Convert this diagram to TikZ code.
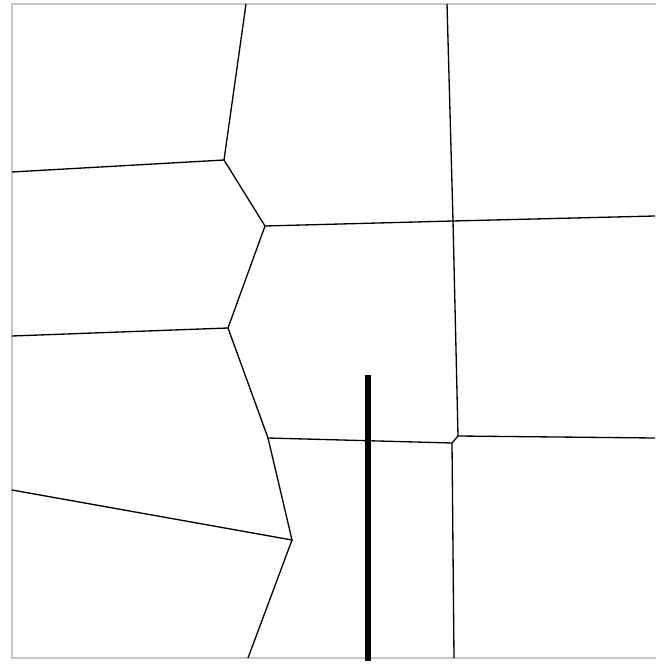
\documentclass[tikz,border=0pt]{standalone}
\begin{document}
\begin{tikzpicture}[x=0.02cm, y=-0.02cm, edge/.style={line width=0.75pt}]
    \useasboundingbox (0,0) rectangle (655,665);
    \draw[gray!45, line width=0.9pt] (12,4) rectangle (660,658);

    \coordinate (a) at (224,160);
    \coordinate (b) at (265,226);
    \coordinate (c) at (453,221);
    \coordinate (d) at (228,328);
    \coordinate (e) at (268,438);
    \coordinate (f) at (452,443);
    \coordinate (g) at (458,436);
    \coordinate (h) at (292,540);

    \coordinate (aL) at (12,172);
    \coordinate (aT) at (246,4);
    \coordinate (cT) at (447,4);
    \coordinate (cR) at (655,216);
    \coordinate (dL) at (12,336);
    \coordinate (gR) at (655,438);
    \coordinate (fB) at (454,658);
    \coordinate (hL) at (12,490);
    \coordinate (hB) at (248,658);

    \draw[edge] (aL) -- (a) -- (aT);
    \draw[edge] (a) -- (b) -- (c) -- (cT);
    \draw[edge] (c) -- (cR);
    \draw[edge] (b) -- (d) -- (dL);
    \draw[edge] (d) -- (e) -- (f) -- (g) -- (gR);
    \draw[edge] (g) -- (c);
    \draw[edge] (f) -- (fB);
    \draw[edge] (e) -- (h) -- (hL);
    \draw[edge] (h) -- (hB);

    \coordinate (barT) at (368,375);
    \coordinate (barB) at (368,661);
    \draw[line width=3.2pt] (barT) -- (barB);
\end{tikzpicture}
\end{document}
